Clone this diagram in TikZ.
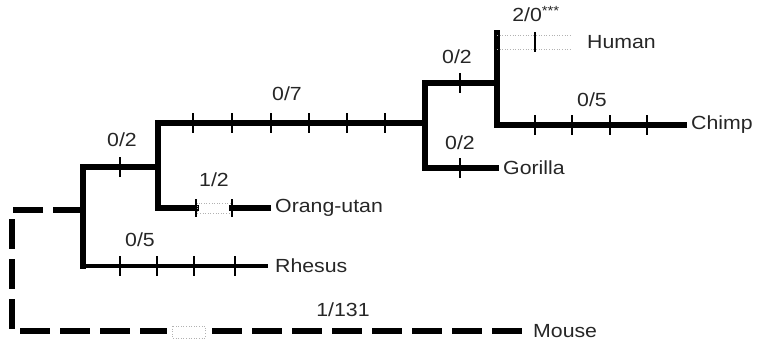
\documentclass[tikz,border=0pt]{standalone}
\usepackage{fontspec}
\setmainfont[FakeStretch=1.12]{Liberation Sans}
\begin{document}
\begin{tikzpicture}[x=1pt,y=-1pt,
  br/.style={line width=5.5pt, line cap=rect},
  thin br/.style={line width=4.5pt},
  dash br/.style={line width=6pt, dash pattern=on 30pt off 10pt},
  tk/.style={line width=2pt},
  faint/.style={draw=gray!60, line width=0.6pt, dotted},
  lbl/.style={font=\fontsize{19}{20}\selectfont, text=black!85, inner sep=0pt},
  leaf/.style={lbl, anchor=west, inner xsep=7pt}]
\useasboundingbox (0,0) rectangle (763,341);
% internal points
\coordinate (root) at (83,210);
\coordinate (rc) at (12,210);
\coordinate (mc) at (12,331);
\coordinate (mb1) at (167,331);
\coordinate (mb2) at (212,331);
\coordinate (a1) at (83,167);
\coordinate (a2) at (83,266);
\coordinate (b1) at (158,123);
\coordinate (b2) at (158,208);
\coordinate (c1) at (425,83);
\coordinate (c2) at (425,168);
\coordinate (d1) at (497,33);
\coordinate (d2) at (497,125);
\coordinate (oA) at (196,208);
\coordinate (oB) at (232,208);
\coordinate (hA) at (497,42);
% leaves
\node[leaf] (human) at (580,42) {Human};
\node[leaf] (chimp) at (684,125) {Chimp};
\node[leaf] (gorilla) at (496,168) {Gorilla};
\node[leaf] (orang) at (268,208) {Orang-utan};
\node[leaf] (rhesus) at (268,266) {Rhesus};
\node[leaf, inner xsep=11pt] (mouse) at (522,331) {Mouse};
% mouse branch (dashed)
\draw[dash br] (root) -- (rc) -- (mc) -- (mb1);
\draw[dash br] (mb2) -- (mouse.west);
\draw[faint] (172,326) rectangle (205,338);
% ingroup skeleton
\draw[br] (a1) -- (a2);
\draw[br] (a1) -- (b1 |- a1);
\draw[thin br] (a2) -- (rhesus.west);
\draw[br] (b1) -- (b2) -- (oA);
\draw[br] (oB) -- (orang.west);
\draw[faint] (197,203) rectangle (231,213);
\draw[br] (b1) -- (c1 |- b1);
\draw[br] (c1) -- (c2) -- (gorilla.west);
\draw[br] (c1) -- (d1 |- c1);
\draw[br] (d1) -- (d2) -- (chimp.west);
\draw[faint] (hA |- 0,35) -- (570,35);
\draw[faint] (hA |- 0,49) -- (570,49);
% ticks
\foreach \x in {120} \draw[tk] (\x,157) -- (\x,177);
\foreach \x in {120,157,194,235} \draw[tk] (\x,256) -- (\x,276);
\foreach \x in {196,232} \draw[tk] (\x,199) -- (\x,217);
\foreach \x in {193,232,271,309,347,385} \draw[tk] (\x,113) -- (\x,133);
\foreach \x in {460} {\draw[tk] (\x,73) -- (\x,93); \draw[tk] (\x,158) -- (\x,178);}
\foreach \x in {535,572,610,647} \draw[tk] (\x,115) -- (\x,135);
\draw[line width=2.5pt] (535,32) -- (535,52);
% branch labels
\node[lbl] (l1) at (122,140) {0/2};
\node[lbl] (l2) at (140,240) {0/5};
\node[lbl] (l3) at (214,180) {1/2};
\node[lbl] (l4) at (287,94) {0/7};
\node[lbl] (l5) at (457,57) {0/2};
\node[lbl] (l6) at (460,143) {0/2};
\node[lbl] (l7) at (536,14) {2/0\textsuperscript{***}};
\node[lbl] (l8) at (592,100) {0/5};
\node[lbl] (l9) at (343,310) {1/131};
\end{tikzpicture}
\end{document}
